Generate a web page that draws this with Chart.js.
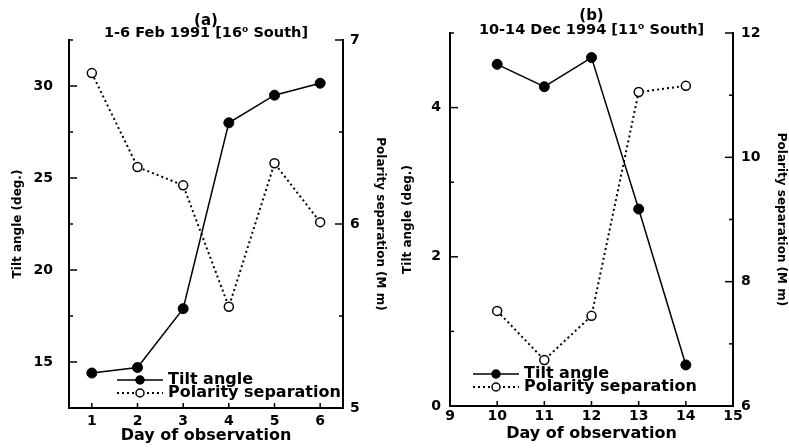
<!DOCTYPE html>
<html>
<head>
<meta charset="utf-8">
<script src="https://cdn.jsdelivr.net/npm/chart.js@4"></script>
<style>
  html, body { margin: 0; padding: 0; background: #fff; }
  #wrap { position: relative; width: 789px; height: 448px; overflow: hidden; }
  canvas { position: absolute; top: 0; }
</style>
</head>
<body>
<div id="wrap">
  <canvas id="chartA" width="395" height="448" style="left:0"></canvas>
  <canvas id="chartB" width="394" height="448" style="left:395px"></canvas>
</div>
<script>
// panel (a): 1-6 Feb 1991
const daysA = [1, 2, 3, 4, 5, 6];
const tiltA = [14.4, 14.7, 17.9, 28.0, 29.5, 30.15];
const polarityA = [6.82, 6.31, 6.21, 5.55, 6.33, 6.01];

// panel (b): 10-14 Dec 1994
const daysB = [10, 11, 12, 13, 14];
const tiltB = [4.58, 4.28, 4.67, 2.64, 0.55];
const polarityB = [7.53, 6.74, 7.45, 11.05, 11.15];

// tick labels
const xTicksA = [1, 2, 3, 4, 5, 6];
const tiltTicksA = [15, 20, 25, 30];
const tiltMinorA = [17.5, 22.5, 27.5, 32.5];
const polTicksA = [5, 6, 7];
const polMinorA = [5.5, 6.5];
const xTicksB = [9, 10, 11, 12, 13, 14, 15];
const tiltTicksB = [0, 2, 4];
const tiltMinorB = [1, 3, 5];
const polTicksB = [6, 8, 10, 12];
const polMinorB = [7, 9, 11];

const seriesNames = ['Tilt angle', 'Polarity separation'];
const panelLabels = ['(a)', '(b)'];
const panelTitles = ['1-6 Feb 1991 [16\u2070 South]', '10-14 Dec 1994 [11\u2070 South]'];
const xTitle = 'Day of observation';
const tiltTitle = 'Tilt angle (deg.)';
const polTitle = 'Polarity separation (M m)';

const FONT = "'DejaVu Sans', 'Liberation Sans', Arial, sans-serif";

function drawPanel(canvas, p) {
    const ctx = document.getElementById(canvas).getContext('2d');
    const tickFont = {family: FONT, size: 14, weight: 'bold'};
    const axisTitleFont = {family: FONT, size: 12, weight: 'bold'};

    // short tick marks pointing into the plot
    const inTicks = {
        id: 'inTicks',
        afterDatasetsDraw(chart) {
            const c = chart.ctx, a = chart.chartArea;
            c.save();
            c.strokeStyle = '#000';
            c.lineWidth = 1.5;
            const mark = (id, v, len) => {
                const s = chart.scales[id];
                const px = s.getPixelForValue(v);
                c.beginPath();
                if (id === 'x') { c.moveTo(px, a.bottom); c.lineTo(px, a.bottom - len); }
                else if (id === 'y') { c.moveTo(a.left, px); c.lineTo(a.left + len, px); }
                else { c.moveTo(a.right, px); c.lineTo(a.right - len, px); }
                c.stroke();
            };
            p.xTicks.forEach(v => mark('x', v, 5));
            p.tiltTicks.forEach(v => mark('y', v, 8));
            p.tiltMinor.forEach(v => mark('y', v, 4));
            p.polTicks.forEach(v => mark('y1', v, 8));
            p.polMinor.forEach(v => mark('y1', v, 4));
            c.restore();
        }
    };

    // legend inside the plot + panel headings
    const extras = {
        id: 'extras',
        afterDraw(chart) {
            const c = chart.ctx, a = chart.chartArea;
            c.save();
            c.fillStyle = '#000';
            c.textAlign = 'center';
            c.textBaseline = 'middle';
            const cx = (a.left + a.right) / 2;
            c.font = 'bold 15px ' + FONT;
            c.fillText(p.label, cx, p.labelY);
            c.font = 'bold 14.5px ' + FONT;
            c.fillText(p.title, cx, p.titleY);

            chart.data.datasets.forEach((ds, i) => {
                const y = p.legendY + i * 13;
                const x0 = p.legendX, x1 = p.legendX + 46;
                c.strokeStyle = '#000';
                c.lineWidth = ds.borderWidth;
                c.setLineDash(ds.borderDash || []);
                c.beginPath(); c.moveTo(x0, y); c.lineTo(x1, y); c.stroke();
                c.setLineDash([]);
                c.beginPath();
                c.arc((x0 + x1) / 2, y, 4, 0, Math.PI * 2);
                c.fillStyle = ds.pointBackgroundColor;
                c.fill();
                c.lineWidth = 1.5;
                c.stroke();
                c.fillStyle = '#000';
                c.textAlign = 'left';
                c.font = 'bold 16px ' + FONT;
                c.fillText(ds.label, x1 + 5, y);
            });
            c.restore();
        }
    };

    return new Chart(ctx, {
        type: 'line',
        data: {
            datasets: [{
                label: seriesNames[0],
                data: p.days.map((d, i) => ({x: d, y: p.tilt[i]})),
                yAxisID: 'y',
                borderColor: '#000',
                borderWidth: 1.5,
                pointRadius: 5,
                pointBackgroundColor: '#000',
                pointBorderColor: '#000',
                pointBorderWidth: 1,
                tension: 0
            }, {
                label: seriesNames[1],
                data: p.days.map((d, i) => ({x: d, y: p.pol[i]})),
                yAxisID: 'y1',
                borderColor: '#000',
                borderWidth: 2,
                borderDash: [2, 3],
                pointRadius: 4.5,
                pointBackgroundColor: '#fff',
                pointBorderColor: '#000',
                pointBorderWidth: 1.5,
                tension: 0
            }]
        },
        options: {
            responsive: false,
            animation: false,
            events: [],
            layout: {padding: {top: p.top, left: 0, right: 0, bottom: 0}},
            plugins: {
                legend: {display: false},
                tooltip: {enabled: false}
            },
            scales: {
                x: {
                    type: 'linear',
                    min: p.xTicks[0] - (p.xPad0 || 0),
                    max: p.xTicks[p.xTicks.length - 1] + (p.xPad0 || 0),
                    afterBuildTicks: s => { s.ticks = p.xTicks.map(v => ({value: v})); },
                    afterFit: s => { s.height = p.xAxisH; },
                    grid: {display: false, drawTicks: false},
                    border: {display: true, color: '#000', width: 2},
                    ticks: {padding: p.xTickPad, color: '#000', font: tickFont, maxRotation: 0, autoSkip: false},
                    title: {display: true, text: xTitle, color: '#000',
                            font: {family: FONT, size: 16, weight: 'bold'},
                            padding: {top: 0, bottom: p.xTitlePad}}
                },
                y: {
                    position: 'left',
                    min: p.tiltMin, max: p.tiltMax,
                    afterBuildTicks: s => { s.ticks = p.tiltTicks.map(v => ({value: v})); },
                    afterFit: s => { s.width = p.leftW; },
                    grid: {display: false, drawTicks: false},
                    border: {display: true, color: '#000', width: 2},
                    ticks: {padding: p.leftTickPad, color: '#000', font: tickFont},
                    title: {display: true, text: tiltTitle, color: '#000', font: axisTitleFont,
                            padding: {top: p.leftTitlePad, bottom: 0}}
                },
                y1: {
                    position: 'right',
                    min: p.polTicks[0], max: p.polTicks[p.polTicks.length - 1],
                    afterBuildTicks: s => { s.ticks = p.polTicks.map(v => ({value: v})); },
                    afterFit: s => { s.width = p.rightW; },
                    grid: {display: false, drawTicks: false},
                    border: {display: true, color: '#000', width: 2},
                    ticks: {padding: p.rightTickPad, color: '#000', font: tickFont},
                    title: {display: true, text: polTitle, color: '#000', font: axisTitleFont,
                            padding: {top: p.rightTitlePad, bottom: 0}}
                }
            }
        },
        plugins: [inTicks, extras]
    });
}

drawPanel('chartA', {
    days: daysA, tilt: tiltA, pol: polarityA,
    xTicks: xTicksA, xPad0: 0.5,
    tiltTicks: tiltTicksA, tiltMinor: tiltMinorA, tiltMin: 12.5, tiltMax: 32.5,
    polTicks: polTicksA, polMinor: polMinorA,
    label: panelLabels[0], title: panelTitles[0], labelY: 21, titleY: 33,
    top: 40, leftW: 69, rightW: 52, xAxisH: 40,
    xTickPad: 5, xTitlePad: 2.4, leftTickPad: 16, rightTickPad: 7,
    leftTitlePad: 11, rightTitlePad: 8,
    legendX: 117, legendY: 380
});

drawPanel('chartB', {
    days: daysB, tilt: tiltB, pol: polarityB,
    xTicks: xTicksB, xPad0: 0,
    tiltTicks: tiltTicksB, tiltMinor: tiltMinorB, tiltMin: 0, tiltMax: 5,
    polTicks: polTicksB, polMinor: polMinorB,
    label: panelLabels[1], title: panelTitles[1], labelY: 16, titleY: 30,
    top: 33, leftW: 55, rightW: 56, xAxisH: 42,
    xTickPad: 2, xTitlePad: 4.4, leftTickPad: 9, rightTickPad: 8,
    leftTitlePad: 6, rightTitlePad: 1,
    legendX: 78, legendY: 374
});
</script>
</body>
</html>
